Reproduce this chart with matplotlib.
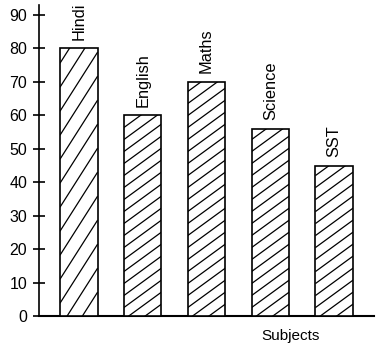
import numpy as np
import matplotlib.pyplot as plt
from matplotlib.collections import LineCollection

subjects = ['Hindi', 'English', 'Maths', 'Science', 'SST']
marks = [80, 60, 70, 56, 45]
yticks = [0, 10, 20, 30, 40, 50, 60, 70, 80, 90]
# hatch slope (pixel rise per pixel run) and vertical gap in pixels
hatch_slope = [1.57, 0.73, 0.73, 0.73, 0.73]
hatch_gap = [24, 12, 12, 12, 12]

plt.rcParams['font.family'] = ['Liberation Sans', 'DejaVu Sans']

fig = plt.figure(figsize=(3.85, 3.52), dpi=100)
ax = fig.add_axes([0.101, 0.102, 0.87, 0.884])

x = np.arange(len(subjects))
bw = 0.59
bars = ax.bar(x, marks, width=bw, color='white', edgecolor='black', linewidth=1.2, zorder=3)

ax.set_xlim(-0.625, 4.62)
ax.set_ylim(0, 93)

# pixels per data unit
px_x = ax.bbox.width / (4.62 + 0.625)
px_y = ax.bbox.height / 93.0

for i, b in enumerate(bars):
    x0 = x[i] - bw / 2
    x1 = x[i] + bw / 2
    h = marks[i]
    slope_d = hatch_slope[i] * px_x / px_y   # data-units y per data-unit x
    gap_d = hatch_gap[i] / px_y
    rise = slope_d * (x1 - x0)
    segs = []
    c = -rise
    while c < h:
        segs.append([(x0, c), (x1, c + rise)])
        c += gap_d
    lc = LineCollection(segs, colors='black', linewidths=0.9, zorder=4)
    ax.add_collection(lc, autolim=False)
    lc.set_clip_path(b)

for i, (s, m) in enumerate(zip(subjects, marks)):
    ax.text(i, m + 2.6, s, rotation=90, ha='center', va='bottom', fontsize=11.8)

ax.set_yticks(yticks)
ax.set_xticks([])
ax.spines['top'].set_visible(False)
ax.spines['right'].set_visible(False)
ax.spines['left'].set_linewidth(1.2)
ax.spines['bottom'].set_linewidth(1.5)
ax.tick_params(axis='y', direction='inout', length=9, width=1.2, labelsize=11.5, pad=4)

fig.text(0.755, 0.045, 'Subjects', ha='center', va='center', fontsize=11)

fig.savefig('out.png', dpi=100)
